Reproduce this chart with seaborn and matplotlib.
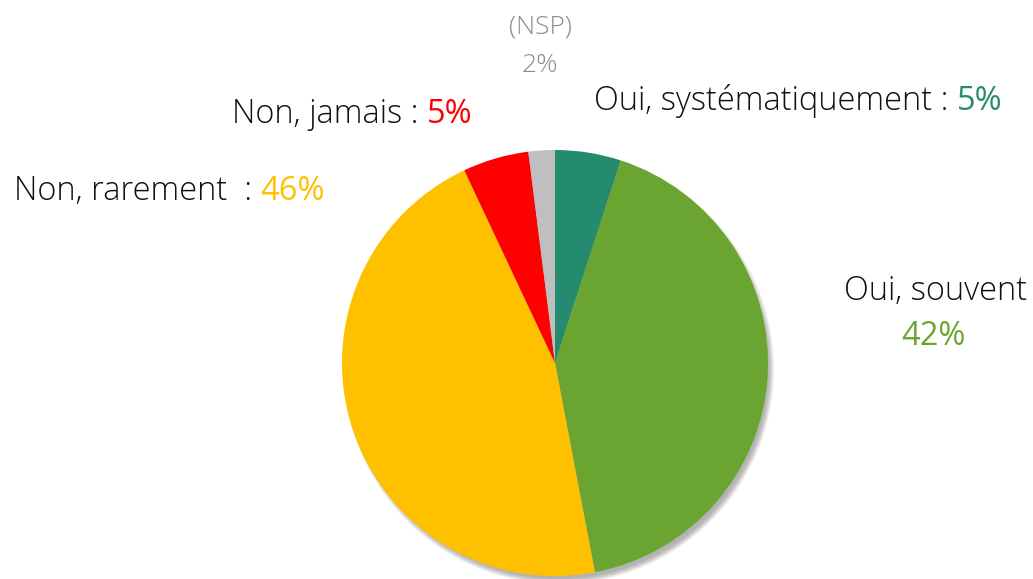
import numpy as np
import pandas as pd
import seaborn as sns
import matplotlib.pyplot as plt
from matplotlib.patches import Circle

sns.set_theme(style="white")
plt.rcParams['font.family'] = ['Open Sans', 'DejaVu Sans']

labels = ['Oui, systématiquement', 'Oui, souvent', 'Non, rarement', 'Non, jamais', '(NSP)']
values = [5, 42, 46, 5, 2]
colors = ['#258B6F', '#6BA531', '#FFC000', '#FF0000', '#BFBFBF']

df = pd.DataFrame({'label': labels, 'value': values, 'color': colors})

W, H = 1033, 579
fig = plt.figure(figsize=(W / 100, H / 100), dpi=100)
ax = fig.add_axes([0, 0, 1, 1])
ax.set_xlim(0, W)
ax.set_ylim(0, H)
ax.axis('off')

cx, cy, r = 555, H - 363, 213

# soft shadow under the pie
for i in range(8):
    ax.add_patch(Circle((cx + 4, cy - 6), r + 2 - i * 0.8, color='#777777',
                        alpha=0.09, lw=0, zorder=0))

ax.pie(df['value'], colors=df['color'], startangle=90, counterclock=False,
       center=(cx, cy), radius=r, wedgeprops=dict(linewidth=0))
ax.set_xlim(0, W)
ax.set_ylim(0, H)

fs = 23.5


def two_part(x, y, head, pct, color):
    t = ax.text(x, y, head, fontsize=fs, color='#111111', ha='left', va='baseline',
                fontweight='light')
    ax.annotate(pct, xy=(1, 0), xycoords=t, va='bottom', ha='left',
                fontsize=fs, color=color, fontweight='normal')
    return t


two_part(594, H - 110, 'Oui, systématiquement : ', f"{values[0]}%", colors[0])
two_part(14, H - 200, 'Non, rarement  : ', f"{values[2]}%", colors[2])
two_part(232, H - 123, 'Non, jamais : ', f"{values[3]}%", colors[3])

ax.text(1027, H - 300, labels[1], fontsize=fs, color='#111111', ha='right',
        va='baseline', fontweight='light')
ax.text(933, H - 345, f"{values[1]}%", fontsize=fs, color=colors[1], ha='center',
        va='baseline', fontweight='normal')

ax.text(540, H - 33, labels[4], fontsize=19, color='#8C8C8C', ha='center',
        va='baseline', fontweight='light')
ax.text(540, H - 72, f"{values[4]}%", fontsize=19, color='#8C8C8C', ha='center',
        va='baseline', fontweight='light')

fig.savefig('out.png', dpi=100)
